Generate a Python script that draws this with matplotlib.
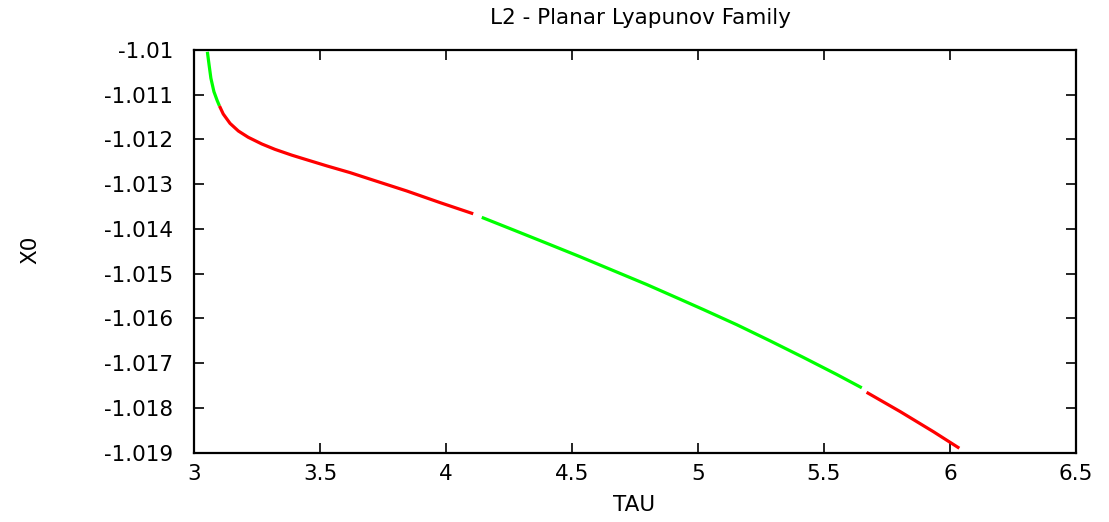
import matplotlib
matplotlib.use("Agg")
import matplotlib.pyplot as plt

plt.rcParams['font.family'] = ['DejaVu Sans']

# Segment 1 (green)
tau_g1 = [3.053, 3.060, 3.067, 3.079, 3.092, 3.101]
x0_g1 = [-1.01004, -1.01034, -1.01063, -1.01093, -1.01113, -1.01125]
# Segment 2 (red)
tau_r1 = [3.101, 3.116, 3.143, 3.176, 3.215, 3.269, 3.321, 3.388, 3.434, 3.527, 3.619,
          3.712, 3.844, 3.976, 4.108]
x0_r1 = [-1.01125, -1.01143, -1.01164, -1.01181, -1.01195, -1.01210, -1.01222, -1.01235,
         -1.01243, -1.01259, -1.01274, -1.01291, -1.01315, -1.01341, -1.01366]
# Segment 3 (green)
tau_g2 = [4.142, 4.267, 4.400, 4.532, 4.664, 4.796, 4.929, 5.021, 5.154, 5.286, 5.418,
          5.550, 5.650]
x0_g2 = [-1.01374, -1.01402, -1.01432, -1.01462, -1.01493, -1.01524, -1.01557, -1.01580,
         -1.01614, -1.01650, -1.01687, -1.01725, -1.01755]
# Segment 4 (red)
tau_r2 = [5.669, 5.802, 5.934, 6.037]
x0_r2 = [-1.01765, -1.01808, -1.01853, -1.01890]

xticks = [3, 3.5, 4, 4.5, 5, 5.5, 6, 6.5]
xtick_labels = ['3', '3.5', '4', '4.5', '5', '5.5', '6', '6.5']
yticks = [-1.01, -1.011, -1.012, -1.013, -1.014, -1.015, -1.016, -1.017, -1.018, -1.019]
ytick_labels = ['-1.01', '-1.011', '-1.012', '-1.013', '-1.014', '-1.015', '-1.016',
                '-1.017', '-1.018', '-1.019']

fs = 15.5
fig = plt.figure(figsize=(11.09, 5.22), dpi=100)
ax = fig.add_axes([194/1109, 1 - 452.7/522, (1076 - 194)/1109, (452.7 - 50)/522])

green = '#00ff00'
red = '#ff0000'
lw = 2.3
ax.plot(tau_g1, x0_g1, color=green, lw=lw, solid_capstyle='butt')
ax.plot(tau_r1, x0_r1, color=red, lw=lw, solid_capstyle='butt')
ax.plot(tau_g2, x0_g2, color=green, lw=lw, solid_capstyle='butt')
ax.plot(tau_r2, x0_r2, color=red, lw=lw, solid_capstyle='butt')

ax.set_xlim(3, 6.5)
ax.set_ylim(-1.019, -1.01)
ax.set_xticks(xticks)
ax.set_xticklabels(xtick_labels)
ax.set_yticks(yticks)
ax.set_yticklabels(ytick_labels)
ax.tick_params(direction='in', length=7, width=1.2, top=True, right=True,
               labelsize=fs, colors='black')
ax.tick_params(axis='y', pad=15)
ax.tick_params(axis='x', pad=8)
for s in ax.spines.values():
    s.set_linewidth(1.6)
    s.set_color('black')

ax.set_xlabel('TAU', fontsize=fs)
ax.xaxis.set_label_coords(0.499, (452.7 - 505) / 402.7)
ax.xaxis.label.set_va('center')
ax.set_ylabel('X0', fontsize=fs)
ax.yaxis.set_label_coords((30 - 194) / 882, 0.503)
ax.yaxis.label.set_va('center')
fig.text(640/1109, 1 - 18/522, 'L2 - Planar Lyapunov Family', ha='center', va='center', fontsize=fs)

fig.savefig('out.png', dpi=100)
